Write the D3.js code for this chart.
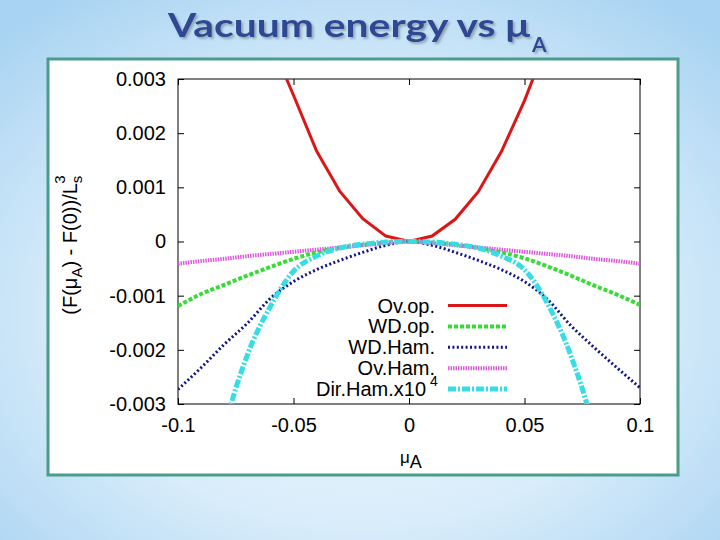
<!DOCTYPE html>
<html>
<head>
<meta charset="utf-8">
<script src="https://cdn.jsdelivr.net/npm/d3@7"></script>
<style>
  body { margin: 0; }
  svg { display: block; font-family: "Liberation Sans", Arial, sans-serif; }
</style>
</head>
<body>
<svg id="chart" width="720" height="540"></svg>
<script>
// mu_A sample points (x values shared by all series)
const muValues = [-0.1, -0.09, -0.08, -0.07, -0.06, -0.05, -0.04, -0.03, -0.02, -0.01, 0,
                  0.01, 0.02, 0.03, 0.04, 0.05, 0.06, 0.07, 0.08, 0.09, 0.1];

const ovOp   = [0.0105, 0.0085, 0.0067, 0.0051, 0.0037, 0.0027, 0.00167, 0.00093, 0.00042, 0.0001, 0,
                0.0001, 0.00041, 0.00092, 0.00166, 0.0026, 0.0037, 0.0051, 0.0067, 0.0085, 0.0105];
const wdOp   = [-0.00119, -0.00097, -0.0008, -0.00063, -0.00047, -0.00032, -0.0002, -0.00012, -0.00006, -0.00002, 0,
                -0.00002, -0.00006, -0.00012, -0.0002, -0.00031, -0.00046, -0.00063, -0.00081, -0.00098, -0.00117];
const wdHam  = [-0.00273, -0.00233, -0.0019, -0.00151, -0.00105, -0.00074, -0.00052, -0.00035, -0.0002, -0.00007, 0,
                -0.00007, -0.0002, -0.00035, -0.00052, -0.00074, -0.00107, -0.00155, -0.00195, -0.00233, -0.0027];
const ovHam  = [-0.00041, -0.00036, -0.00032, -0.00027, -0.00023, -0.00019, -0.00015, -0.00011, -0.00007, -0.00003, 0,
                -0.00003, -0.00007, -0.00011, -0.00015, -0.00019, -0.00023, -0.00027, -0.00032, -0.00036, -0.00041];
const dirHam = [-0.0088, -0.0058, -0.0035, -0.0021, -0.0012, -0.00055, -0.00027, -0.00012, -0.00005, -0.00001, 0,
                -0.00001, -0.00005, -0.00012, -0.00027, -0.00052, -0.00115, -0.0021, -0.0035, -0.0058, -0.0088];

const seriesNames = ["Ov.op.", "WD.op.", "WD.Ham.", "Ov.Ham.", "Dir.Ham.x10"];
const xTicks = [-0.1, -0.05, 0, 0.05, 0.1];
const yTicks = [-0.003, -0.002, -0.001, 0, 0.001, 0.002, 0.003];

const styles = [
    {color: "#dc1616", width: 3, dash: null, curve: d3.curveLinear},
    {color: "#38dc38", width: 4, dash: "4,2", curve: d3.curveMonotoneX},
    {color: "#14148a", width: 3, dash: "2,2.4", curve: d3.curveMonotoneX},
    {color: "#dc5adc", width: 4, dash: "1.5,1", curve: d3.curveMonotoneX},
    {color: "#36dde4", width: 5, dash: "8,2,2,2", curve: d3.curveMonotoneX}
];

const svg = d3.select("#chart");

// background
const defs = svg.append("defs");
const grad = defs.append("radialGradient").attr("id", "bg")
    .attr("cx", "50%").attr("cy", "58%").attr("r", "72%");
grad.append("stop").attr("offset", "0%").attr("stop-color", "#f6fbff");
grad.append("stop").attr("offset", "55%").attr("stop-color", "#d8ecfa");
grad.append("stop").attr("offset", "100%").attr("stop-color", "#a8d3f2");
svg.append("rect").attr("width", 720).attr("height", 540).attr("fill", "url(#bg)");

defs.append("filter").attr("id", "shadow")
    .append("feDropShadow")
    .attr("dx", 2).attr("dy", 2).attr("stdDeviation", 0.8)
    .attr("flood-color", "#7f8f9f").attr("flood-opacity", 0.7);

// title
const t = svg.append("text")
    .attr("x", 168).attr("y", 37)
    .attr("font-family", "Lato, 'Open Sans', sans-serif")
    .attr("font-weight", "bold")
    .attr("font-size", 33)
    .attr("fill", "#2f4a94")
    .attr("filter", "url(#shadow)");
t.append("tspan").text("Vacuum energy vs \u03bc")
    .attr("textLength", 362).attr("lengthAdjust", "spacingAndGlyphs");
t.append("tspan").text("A").attr("font-size", 21).attr("dy", 15).attr("dx", 2);

// white panel with teal frame
svg.append("rect")
    .attr("x", 48).attr("y", 59).attr("width", 630).attr("height", 416)
    .attr("fill", "#ffffff").attr("stroke", "#4a9c8b").attr("stroke-width", 3);

const margin = {top: 79, right: 640, bottom: 404, left: 178};

const xScale = d3.scaleLinear().domain([-0.1, 0.1]).range([margin.left, margin.right]);
const yScale = d3.scaleLinear().domain([-0.003, 0.003]).range([margin.bottom, margin.top]);

defs.append("clipPath").attr("id", "plot-clip")
    .append("rect")
    .attr("x", margin.left).attr("y", margin.top)
    .attr("width", margin.right - margin.left).attr("height", margin.bottom - margin.top);

function styleAxis(g) {
    g.select(".domain").remove();
    g.selectAll(".tick line").attr("stroke", "#000");
    g.selectAll(".tick text").attr("fill", "#000").attr("font-size", 20)
        .attr("font-family", "'Liberation Sans', Arial, sans-serif");
}

svg.append("g")
    .attr("transform", `translate(${margin.left},0)`)
    .call(d3.axisLeft(yScale).tickValues(yTicks).tickSize(-6).tickPadding(12)
        .tickFormat(d => d === 0 ? "0" : d.toFixed(3)))
    .call(styleAxis);

svg.append("g")
    .attr("transform", `translate(${margin.right},0)`)
    .call(d3.axisRight(yScale).tickValues(yTicks).tickSize(-6).tickFormat(""))
    .call(styleAxis);

svg.append("g")
    .attr("transform", `translate(0,${margin.bottom})`)
    .call(d3.axisBottom(xScale).tickValues(xTicks).tickSize(-6).tickPadding(14)
        .tickFormat(d => String(d)))
    .call(styleAxis);

svg.append("g")
    .attr("transform", `translate(0,${margin.top})`)
    .call(d3.axisTop(xScale).tickValues(xTicks).tickSize(-6).tickFormat(""))
    .call(styleAxis);

svg.append("rect")
    .attr("x", margin.left).attr("y", margin.top)
    .attr("width", margin.right - margin.left).attr("height", margin.bottom - margin.top)
    .attr("fill", "none").attr("stroke", "#000").attr("stroke-width", 1);

// curves
const allSeries = [ovOp, wdOp, wdHam, ovHam, dirHam];
const lines = svg.append("g").attr("clip-path", "url(#plot-clip)");

allSeries.forEach((values, i) => {
    const s = styles[i];
    const line = d3.line()
        .x((d, j) => xScale(muValues[j]))
        .y(d => yScale(d))
        .curve(s.curve);
    lines.append("path")
        .datum(values)
        .attr("d", line)
        .attr("fill", "none")
        .attr("stroke", s.color)
        .attr("stroke-width", s.width)
        .attr("stroke-dasharray", s.dash);
});

// legend
const legendY = d3.scaleLinear().domain([0, 4]).range([305.5, 389]);
const legend = svg.append("g").attr("font-size", 20);

seriesNames.forEach((name, i) => {
    const s = styles[i];
    const y = legendY(i);
    legend.append("text")
        .attr("x", i === 4 ? 426 : 435).attr("y", y + 7)
        .attr("text-anchor", "end")
        .text(name);
    if (i === 4) {
        legend.append("text").attr("x", 430).attr("y", y - 3)
            .attr("font-size", 14).text("4");
    }
    legend.append("line")
        .attr("x1", 448).attr("x2", 507)
        .attr("y1", y).attr("y2", y)
        .attr("stroke", s.color)
        .attr("stroke-width", s.width)
        .attr("stroke-dasharray", s.dash);
});

// x axis label
const xl = svg.append("text")
    .attr("x", 400).attr("y", 463)
    .attr("font-size", 17);
xl.append("tspan").text("\u03bc");
xl.append("tspan").text("A").attr("dy", 5).attr("font-size", 18);

// y axis label
const yl = svg.append("text")
    .attr("transform", "translate(77,245) rotate(-90)")
    .attr("text-anchor", "middle")
    .attr("font-size", 20);
yl.append("tspan").text("(F(\u03bc");
yl.append("tspan").text("A").attr("font-size", 15).attr("dy", 5);
yl.append("tspan").text(") - F(0))/L").attr("dy", -5);
yl.append("tspan").text("s").attr("font-size", 15).attr("dy", 5);
yl.append("tspan").text("3").attr("font-size", 15).attr("dx", -8).attr("dy", -17);
</script>
</body>
</html>
